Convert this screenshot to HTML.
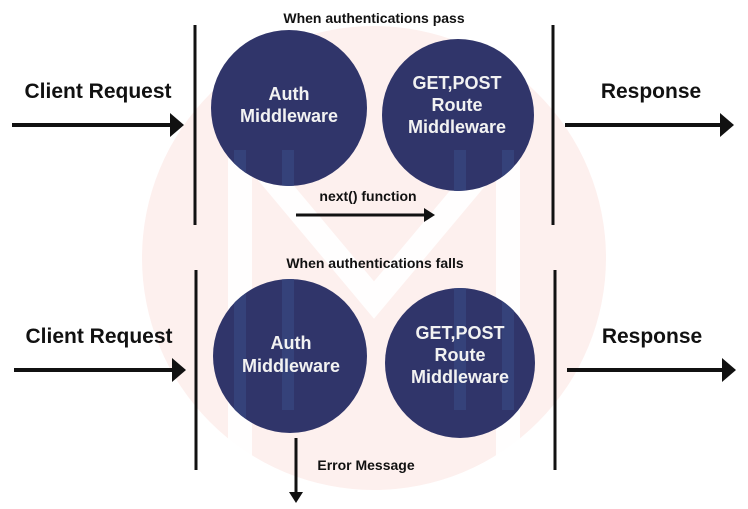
<!DOCTYPE html>
<html><head><style>html,body{margin:0;padding:0;background:#fff}svg{display:block}text{font-family:"Liberation Sans",sans-serif;font-weight:bold}</style></head><body>
<svg width="748" height="509" viewBox="0 0 748 509" xmlns="http://www.w3.org/2000/svg">
<defs>
<clipPath id="cc">
<circle cx="289" cy="108" r="78"/><circle cx="458" cy="115" r="76"/>
<circle cx="290" cy="356" r="77"/><circle cx="460" cy="363" r="75"/>
</clipPath>
</defs>
<circle cx="374" cy="258" r="232" fill="#fdf0ee"/>
<g stroke="#ffffff" stroke-width="24" fill="none" opacity="0.9">
<polyline points="240,470 240,140 374,300 508,140 508,470"/>
</g>
<g fill="#30356a">
<circle cx="289" cy="108" r="78"/>
<circle cx="458" cy="115" r="76"/>
<circle cx="290" cy="356" r="77"/>
<circle cx="460" cy="363" r="75"/>
</g>
<g stroke="#35427a" stroke-width="12" fill="none" clip-path="url(#cc)">
<line x1="240" y1="150" x2="240" y2="420"/><line x1="288" y1="150" x2="288" y2="410"/>
<line x1="460" y1="150" x2="460" y2="410"/><line x1="508" y1="150" x2="508" y2="410"/>
</g>
<g stroke="#111" stroke-width="3">
<line x1="195" y1="25" x2="195" y2="225"/><line x1="553" y1="25" x2="553" y2="225"/>
<line x1="196" y1="270" x2="196" y2="470"/><line x1="555" y1="270" x2="555" y2="470"/>
</g>
<g stroke="#111" stroke-width="4">
<line x1="12" y1="125" x2="172" y2="125"/><line x1="565" y1="125" x2="722" y2="125"/>
<line x1="14" y1="370" x2="174" y2="370"/><line x1="567" y1="370" x2="724" y2="370"/>
</g>
<g stroke="#111" stroke-width="3">
<line x1="296" y1="215" x2="426" y2="215"/><line x1="296" y1="438" x2="296" y2="494"/>
</g>
<g fill="#111">
<polygon points="170,113 184,125 170,137"/><polygon points="720,113 734,125 720,137"/>
<polygon points="172,358 186,370 172,382"/><polygon points="722,358 736,370 722,382"/>
<polygon points="424,208 435,215 424,222"/><polygon points="289,492 303,492 296,503"/>
</g>
<g fill="#111" text-anchor="middle">
<text x="374" y="23" font-size="14">When authentications pass</text>
<text x="375" y="268" font-size="14">When authentications falls</text>
<text x="98" y="98" font-size="21">Client Request</text>
<text x="99" y="343" font-size="21">Client Request</text>
<text x="651" y="98" font-size="21">Response</text>
<text x="652" y="343" font-size="21">Response</text>
<text x="368" y="201" font-size="14">next() function</text>
<text x="366" y="470" font-size="14">Error Message</text>
</g>
<g fill="#f2f2f2" text-anchor="middle" font-size="18">
<text x="289" y="100">Auth</text><text x="289" y="122">Middleware</text>
<text x="457" y="89">GET,POST</text><text x="457" y="111">Route</text><text x="457" y="133">Middleware</text>
<text x="291" y="349">Auth</text><text x="291" y="372">Middleware</text>
<text x="460" y="339">GET,POST</text><text x="460" y="361">Route</text><text x="460" y="383">Middleware</text>
</g>
</svg>
</body></html>
